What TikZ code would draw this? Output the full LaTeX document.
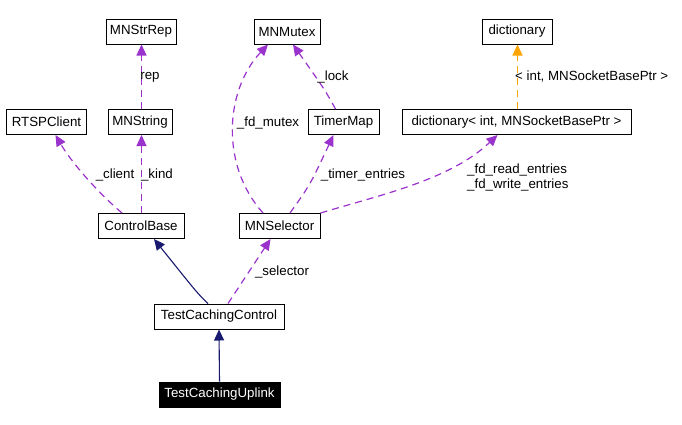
\documentclass[tikz,border=0pt]{standalone}
\usepackage{fontspec}
\setmainfont{Liberation Sans}
\usetikzlibrary{arrows.meta,calc}
\definecolor{dep}{RGB}{154,50,205}
\definecolor{tmpl}{RGB}{255,165,0}
\definecolor{inh}{RGB}{25,25,112}
\tikzset{
  x=1bp,y=-1bp,
  every node/.style={font=\fontsize{13.3bp}{15bp}\selectfont, inner sep=0pt},
  cls/.style={draw=black, line width=1bp, fill=white, minimum height=25bp, anchor=center},
  cur/.style={cls, fill=black, text=white},
  depl/.style={draw=dep, line width=1.2bp, dash pattern=on 7bp off 5bp, arrows={-{Triangle[length=11bp,width=10bp,fill=dep,color=dep]}}},
  tmpll/.style={draw=tmpl, line width=1.2bp, dash pattern=on 7bp off 5bp, arrows={-{Triangle[length=11bp,width=10bp,fill=tmpl,color=tmpl]}}},
  inhl/.style={draw=inh, line width=1.1bp, arrows={-{Triangle[length=11bp,width=10bp,fill=inh,color=inh]}}},
  lbl/.style={anchor=center}
}
\begin{document}
\begin{tikzpicture}
\useasboundingbox[fill=white] (0,0) rectangle (682,424);
% classes
\node[cls, minimum width=70bp] (strrep) at (141,31.5) {MNStrRep};
\node[cls, minimum width=66bp] (mutex) at (287,31.5) {MNMutex};
\node[cls, minimum width=70bp] (dict) at (517,31.5) {dictionary};
\node[cls, minimum width=79bp] (rtsp) at (46.5,122) {RTSPClient};
\node[cls, minimum width=64bp] (mnstring) at (140,122) {MNString};
\node[cls, minimum width=71bp] (timermap) at (343.5,122) {TimerMap};
\node[cls, minimum width=229bp] (dictinst) at (516.5,122) {dictionary< int, MNSocketBasePtr >};
\node[cls, minimum width=86bp] (cbase) at (141,226) {ControlBase};
\node[cls, minimum width=81bp] (selector) at (279.5,226) {MNSelector};
\node[cls, minimum width=130bp] (tcc) at (219,316.5) {TestCachingControl};
\node[cur, minimum width=121bp] (tcu) at (219.5,394.5) {TestCachingUplink};
% edges
\draw[depl] ($(mnstring.north)+(1.5,0)$) -- ($(strrep.south)+(0.5,0)$);
\node[lbl] (lrep) at (150,77) {rep};
\draw[depl] ($(cbase.north)+(-19,0)$) .. controls (95,190) and (70,160) .. ($(rtsp.south)+(9,0)$);
\node[lbl] (lclient) at (115,175) {\_client};
\draw[depl] ($(cbase.north)+(0.5,0)$) -- ($(mnstring.south)+(1.5,0)$);
\node[lbl] (lkind) at (157,175) {\_kind};
\draw[depl] ($(selector.north)+(-16.5,0)$) .. controls (220,165) and (225,90) .. ($(mutex.south)+(-19,0)$);
\node[lbl] (lmutex) at (268,123) {\_fd\_mutex};
\draw[depl] ($(timermap.north)+(-8,0)$) .. controls (325,90) .. ($(mutex.south)+(6,0)$);
\node[lbl] (llock) at (333,77) {\_lock};
\draw[depl] ($(selector.north)+(10.5,0)$) .. controls (310,185) .. ($(timermap.south)+(-10,0)$);
\node[lbl] (ltimer) at (363,175) {\_timer\_entries};
\draw[depl] (selector.north east) .. controls (380,195) and (450,180) .. ($(dictinst.south)+(-19,0)$);
\node[anchor=west, align=left] (lfd) at (467,177.5) {\_fd\_read\_entries\\\_fd\_write\_entries};
\draw[tmpll] ($(dictinst.north)+(1,0)$) -- ($(dict.south)+(0.5,0)$);
\node[anchor=west] (ltmpl) at (515,77) {< int, MNSocketBasePtr >};
\draw[inhl] ($(tcc.north)+(-11,0)$) .. controls (198,294) .. ($(cbase.south)+(13,0)$);
\draw[depl] ($(tcc.north)+(9,0)$) -- ($(selector.south)+(-9,0)$);
\node[lbl] (lsel) at (282,272) {\_selector};
\draw[inhl] (tcu.north) -- (tcc.south);
\end{tikzpicture}
\end{document}
